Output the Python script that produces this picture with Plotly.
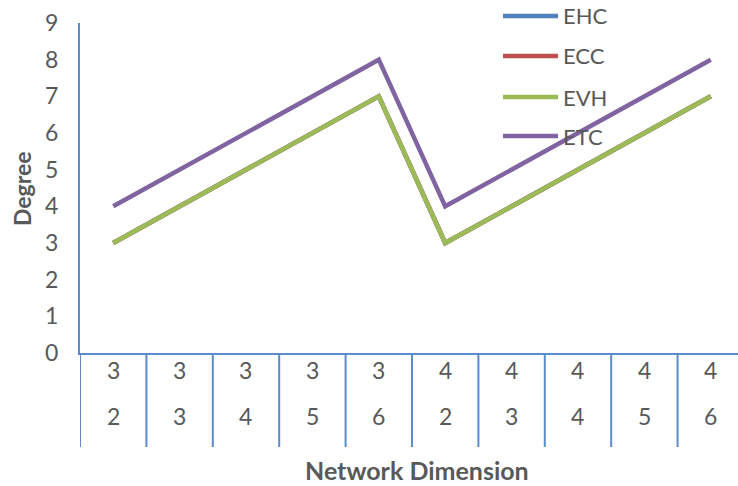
import plotly.graph_objects as go

# ---- data ----
outer_labels = ["3", "3", "3", "3", "3", "4", "4", "4", "4", "4"]
inner_labels = ["2", "3", "4", "5", "6", "2", "3", "4", "5", "6"]
series_names = ["EHC", "ECC", "EVH", "ETC"]
ehc = [3, 4, 5, 6, 7, 3, 4, 5, 6, 7]
ecc = [3, 4, 5, 6, 7, 3, 4, 5, 6, 7]
evh = [3, 4, 5, 6, 7, 3, 4, 5, 6, 7]
etc = [4, 5, 6, 7, 8, 4, 5, 6, 7, 8]
y_ticks = [0, 1, 2, 3, 4, 5, 6, 7, 8, 9]

colors = ["#4F81BD", "#C0504D", "#9BBB59", "#8064A2"]
axis_color = "#5B8BCB"
text_color = "#595959"
FONT = "Lato"
FS = 23

W, H = 738, 486
L, R, T, B = 80, 0, 23, 133
pw, ph = W - L - R, H - T - B

def px_x(p):
    return (p - L) / pw

def px_y(p):
    return (H - B - p) / ph

xs = list(range(len(outer_labels)))
fig = go.Figure()
for name, vals, c in zip(series_names, [ehc, ecc, evh, etc], colors):
    fig.add_trace(go.Scatter(x=xs, y=vals, mode="lines", name=name,
                             line=dict(color=c, width=4.5), showlegend=False))

shapes = []
annotations = []
# category dividers below the axis
for i in range(len(outer_labels)):
    xb = i - 0.5
    shapes.append(dict(type="line", xref="x", yref="paper", x0=xb, x1=xb,
                       y0=0, y1=px_y(447), line=dict(color=axis_color, width=2)))
    annotations.append(dict(xref="x", yref="paper", x=i, y=px_y(386),
                            text=outer_labels[i], showarrow=False,
                            font=dict(family=FONT, size=FS, color=text_color)))
    annotations.append(dict(xref="x", yref="paper", x=i, y=px_y(432),
                            text=inner_labels[i], showarrow=False,
                            font=dict(family=FONT, size=FS, color=text_color)))

# manual legend
leg_y = [16, 56, 97, 136]
for name, c, yy in zip(series_names, colors, leg_y):
    shapes.append(dict(type="line", xref="paper", yref="paper",
                       x0=px_x(503), x1=px_x(558), y0=px_y(yy), y1=px_y(yy),
                       line=dict(color=c, width=4.5)))
    annotations.append(dict(xref="paper", yref="paper", x=px_x(561), y=px_y(yy),
                            xanchor="left", yanchor="middle", text=name,
                            showarrow=False,
                            font=dict(family=FONT, size=FS - 1, color=text_color)))

# axis titles
annotations.append(dict(xref="paper", yref="paper", x=px_x(22), y=px_y(189),
                        text="<b>Degree</b>", textangle=-90, showarrow=False,
                        xanchor="center", yanchor="middle",
                        font=dict(family=FONT, size=23, color=text_color)))
annotations.append(dict(xref="paper", yref="paper", x=px_x(417), y=px_y(470),
                        text="<b>Network Dimension</b>", showarrow=False,
                        xanchor="center", yanchor="middle",
                        font=dict(family=FONT, size=25, color=text_color)))

fig.update_layout(
    width=W, height=H,
    margin=dict(l=L, r=R, t=T, b=B, pad=0),
    paper_bgcolor="white", plot_bgcolor="white",
    shapes=shapes, annotations=annotations,
    xaxis=dict(range=[-0.5, 9.41], showgrid=False, zeroline=False,
               showticklabels=False, ticks="", showline=True,
               linecolor=axis_color, linewidth=2),
    yaxis=dict(range=[0, 9], tickvals=y_ticks, showgrid=False, zeroline=False,
               showline=True, linecolor=axis_color, linewidth=2, ticks="",
               ticklabelstandoff=15,
               tickfont=dict(family=FONT, size=FS, color=text_color)),
)

fig.write_html("out.html")
